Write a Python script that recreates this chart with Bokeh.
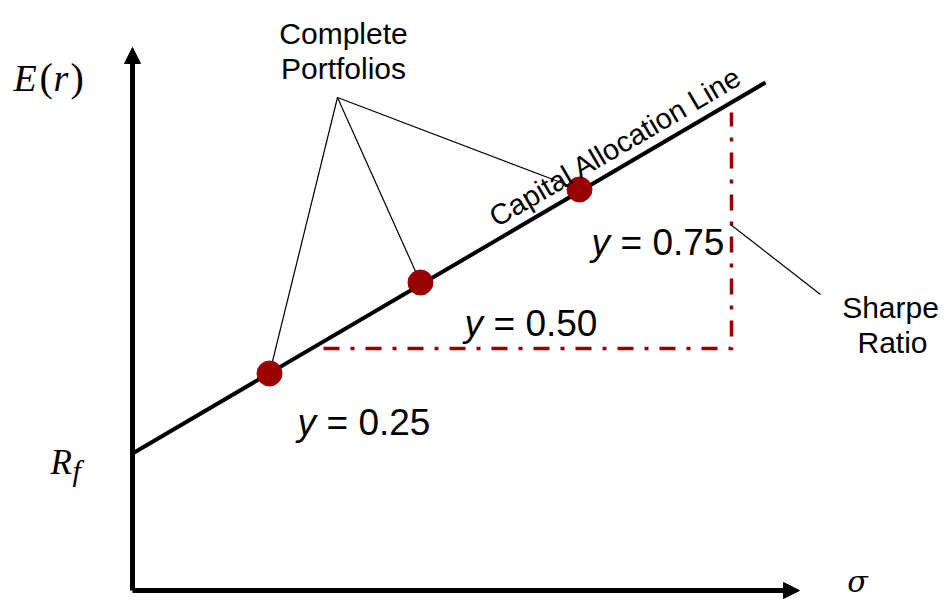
import math
from bokeh.plotting import figure
from bokeh.models import Range1d, Arrow, NormalHead
from bokeh.core.properties import value
from bokeh.embed import file_html
from bokeh.resources import INLINE

# ---------------- data (diagram units) ----------------
rf = 1.37                       # risk-free rate (intercept of CAL)
cal_sigma = [0.0, 6.33]         # CAL drawn from sigma=0 to this sigma
cal_er = [1.37, 5.08]
port_sigma = [1.37, 2.88, 4.47]  # complete portfolios
port_er = [2.17, 3.08, 4.01]
port_weight = ["0.25", "0.50", "0.75"]
sharpe_sigma = [1.91, 5.99, 5.99]   # run then rise of Sharpe triangle
sharpe_er = [2.42, 2.42, 4.78]
axis_sigma_max = 6.67
axis_er_max = 5.43

# ---------------- layout helpers (page px -> diagram units) ----------------
OX, OY, S = 132, 590, 100.0
def sx(px): return (px - OX) / S
def sy(py): return (OY - py) / S

W, H = 946, 601
p = figure(width=W, height=H, output_backend="svg", toolbar_location=None,
           x_range=Range1d(sx(0), sx(W)), y_range=Range1d(sy(H), sy(0)),
           x_axis_location=None, y_axis_location=None, min_border=0)
p.grid.visible = False
p.outline_line_color = None
p.background_fill_color = "white"
p.border_fill_color = "white"

RED = "#990000"
SANS = value("Liberation Sans")
SERIF = value("Liberation Serif")

# Sharpe triangle (dash-dot)
p.line(sharpe_sigma, sharpe_er, line_color=RED, line_width=3.5,
       line_dash="16 11 4 11", line_join="miter")

# Axes with arrows
p.add_layout(Arrow(end=NormalHead(size=16, fill_color="black", line_color="black", line_width=1),
                   x_start=0, y_start=0, x_end=0, y_end=axis_er_max,
                   line_width=5, line_color="black"))
p.add_layout(Arrow(end=NormalHead(size=16, fill_color="black", line_color="black", line_width=1),
                   x_start=0, y_start=0, x_end=axis_sigma_max, y_end=0,
                   line_width=5, line_color="black"))

# Capital Allocation Line
p.line(cal_sigma, cal_er, line_color="black", line_width=4)

# Leader lines from "Complete Portfolios"
apex = (sx(337), sy(97))
p.segment(x0=[apex[0]] * len(port_sigma), y0=[apex[1]] * len(port_sigma),
          x1=port_sigma, y1=port_er, line_color="black", line_width=1.2)

# Sharpe ratio leader
p.segment(x0=[sx(730)], y0=[sy(224)], x1=[sx(820)], y1=[sy(294)],
          line_color="black", line_width=1.2)

# Portfolio points
p.scatter(port_sigma, port_er, size=25, fill_color=RED, line_color=RED)

# Texts
p.text(x=[sx(343), sx(343)], y=[sy(33), sy(68)], text=["Complete", "Portfolios"],
       text_font=SANS, text_font_size="30px", text_align="center",
       text_baseline="alphabetic", text_color="black")

slope = (cal_er[1] - cal_er[0]) / (cal_sigma[1] - cal_sigma[0])
ang = math.atan(slope)
p.text(x=[sx(615)], y=[sy(146)], text=["Capital Allocation Line"], angle=ang,
       text_font=SANS, text_font_size="29px", text_align="center",
       text_baseline="alphabetic", text_color="black")

lab_x = [sx(297), sx(464), sx(591)]
lab_y = [sy(422), sy(323), sy(242)]
p.text(x=lab_x, y=lab_y, text=["y"] * 3, text_font=SANS, text_font_size="37px",
       text_font_style="italic", text_align="left", text_baseline="alphabetic",
       text_color="black")
p.text(x=[v + 29 / S for v in lab_x], y=lab_y, text=["= " + w for w in port_weight],
       text_font=SANS, text_font_size="37px", text_align="left",
       text_baseline="alphabetic", text_color="black")

p.text(x=[sx(890), sx(892)], y=[sy(307), sy(342)], text=["Sharpe", "Ratio"],
       text_font=SANS, text_font_size="30px", text_align="center",
       text_baseline="alphabetic", text_color="black")

# Axis labels (math-style: italic letters, upright parentheses)
p.text(x=[sx(13)], y=[sy(77)], text=["E"], text_font=SERIF, text_font_size="38px",
       text_font_style="italic", text_align="left", text_baseline="alphabetic")
p.text(x=[sx(39), sx(70)], y=[sy(77), sy(77)], text=["(", ")"], text_font=SERIF,
       text_font_size="40px", text_align="left", text_baseline="alphabetic")
p.text(x=[sx(53)], y=[sy(77)], text=["r"], text_font=SERIF, text_font_size="38px",
       text_font_style="italic", text_align="left", text_baseline="alphabetic")
p.text(x=[sx(50)], y=[sy(462)], text=["R"], text_font=SERIF, text_font_size="35px",
       text_font_style="italic", text_align="left", text_baseline="alphabetic")
p.text(x=[sx(72)], y=[sy(470)], text=["f"], text_font=SERIF, text_font_size="30px",
       text_font_style="italic", text_align="left", text_baseline="alphabetic")
p.text(x=[sx(857)], y=[sy(581)], text=["σ"], text_font=value("DejaVu Serif"),
       text_font_size="30px", text_font_style="italic", text_align="center",
       text_baseline="middle")

open("out.html", "w").write(file_html(p, INLINE))
